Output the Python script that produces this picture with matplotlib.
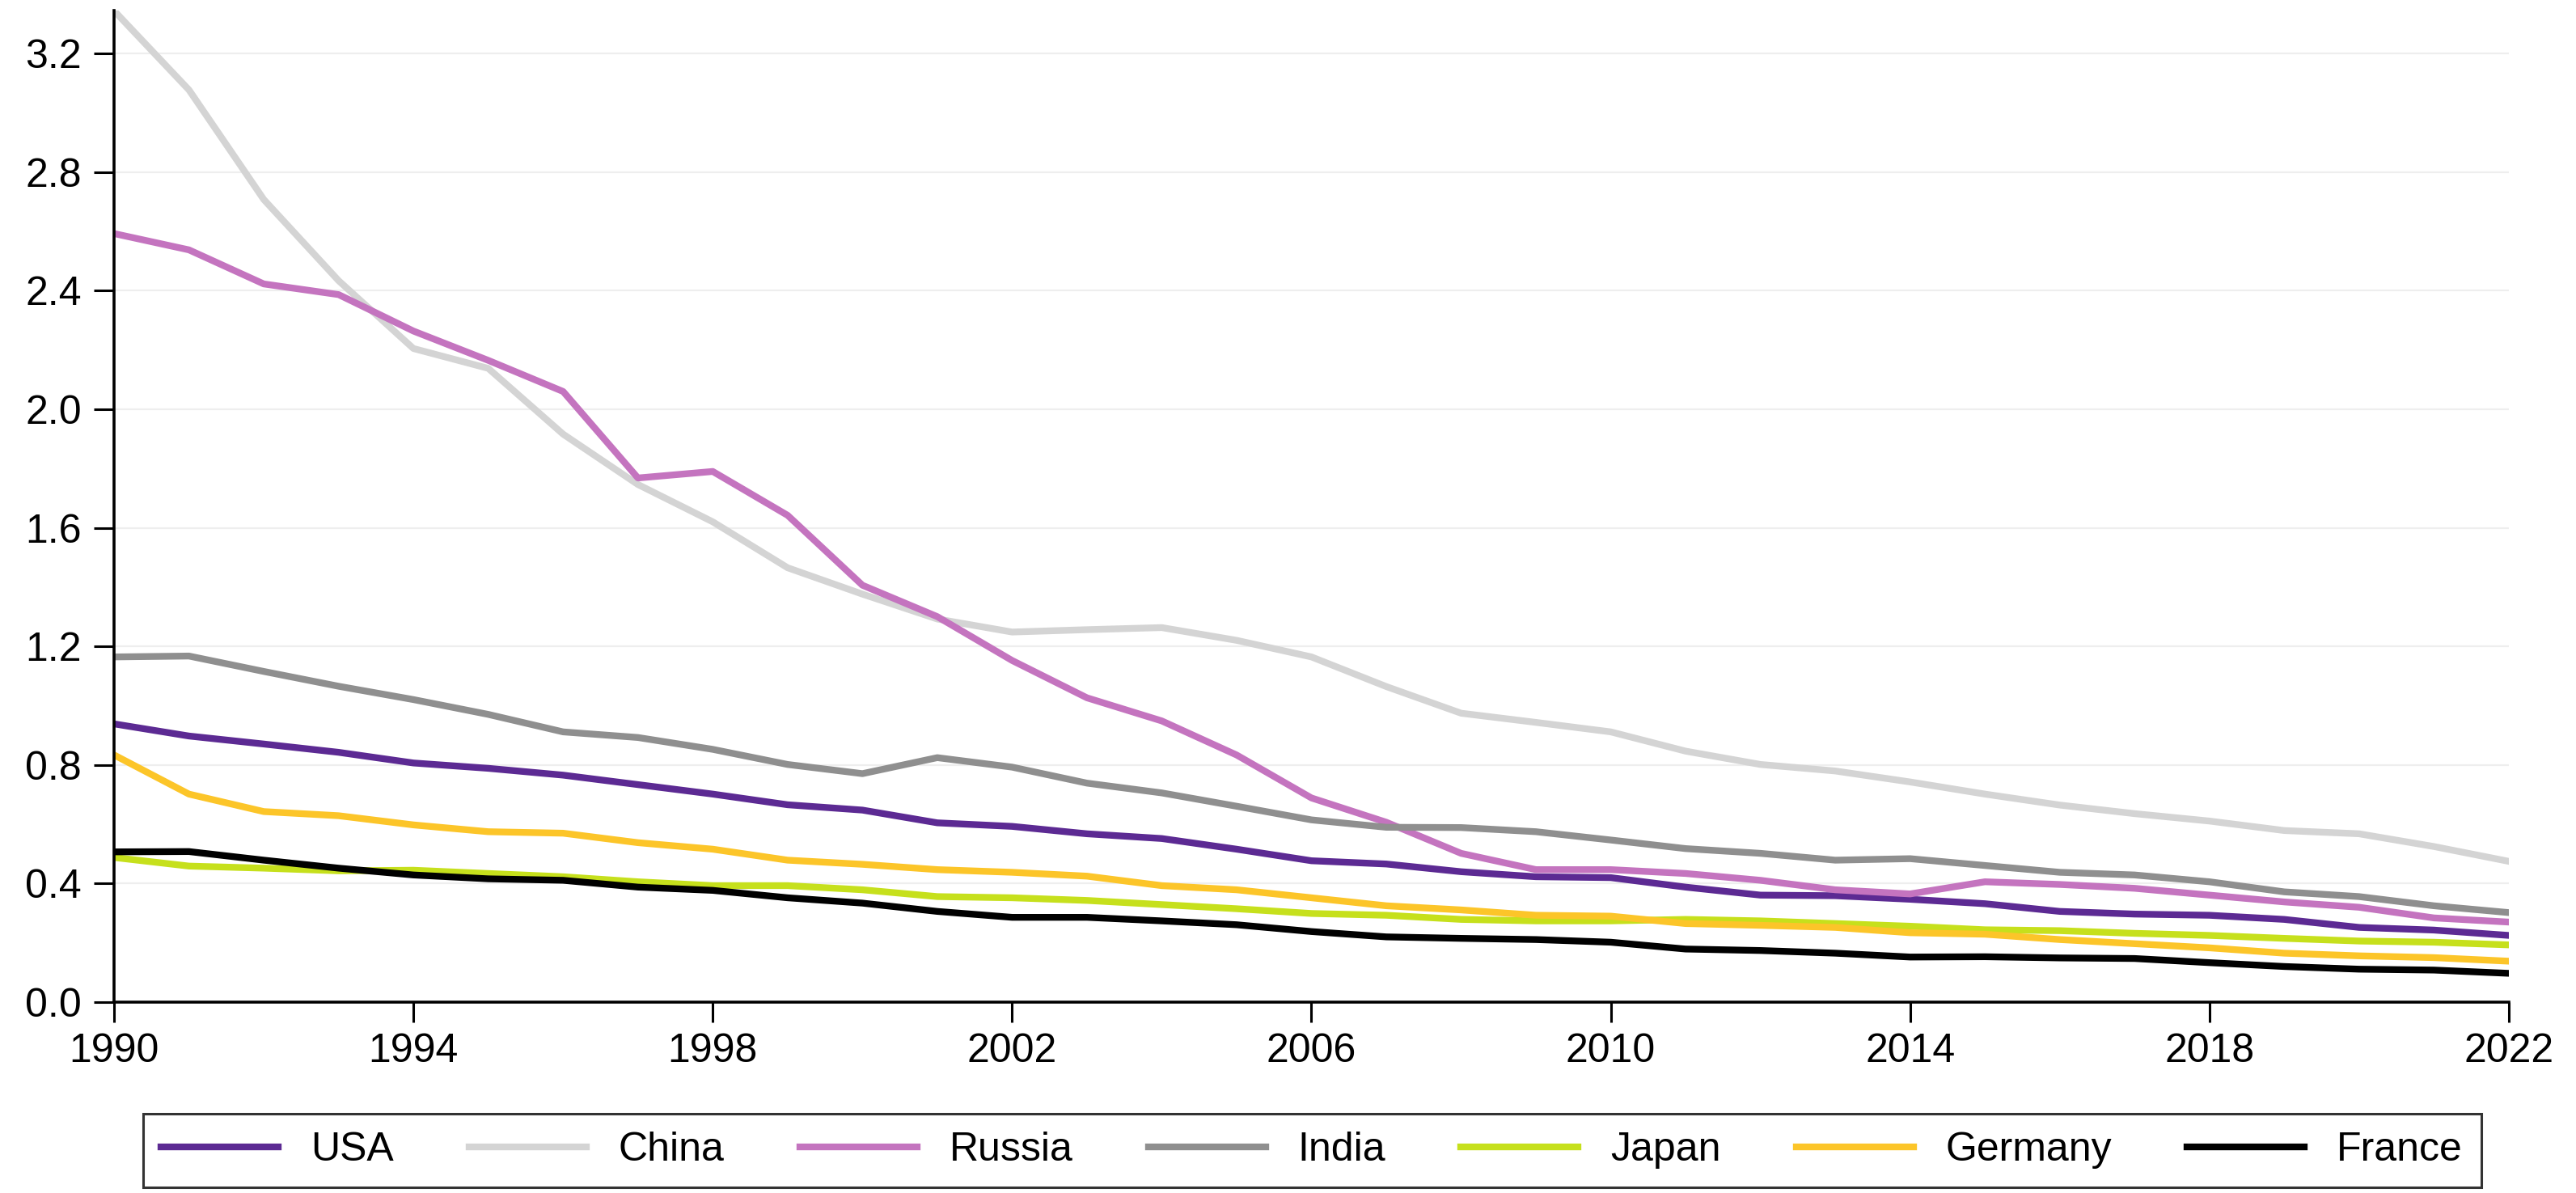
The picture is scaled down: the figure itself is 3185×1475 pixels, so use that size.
import matplotlib
matplotlib.use("Agg")
import matplotlib.pyplot as plt
from matplotlib.ticker import FormatStrFormatter

plt.rcParams['font.family'] = ['Liberation Sans', 'DejaVu Sans']

years = list(range(1990, 2023))

usa = [0.938, 0.897, 0.870, 0.842, 0.806, 0.788, 0.765, 0.733, 0.701, 0.665, 0.647,
       0.604, 0.592, 0.567, 0.551, 0.515, 0.476, 0.465, 0.439, 0.422, 0.419,
       0.387, 0.360, 0.358, 0.346, 0.331, 0.305, 0.296, 0.292, 0.278, 0.251, 0.242, 0.224]
china = [3.345, 3.078, 2.708, 2.434, 2.205, 2.138, 1.916, 1.746, 1.620, 1.465, 1.376,
         1.292, 1.248, 1.256, 1.263, 1.220, 1.164, 1.064, 0.974, 0.943, 0.911,
         0.846, 0.801, 0.779, 0.742, 0.701, 0.664, 0.635, 0.610, 0.578, 0.567, 0.524, 0.474]
russia = [2.593, 2.538, 2.423, 2.387, 2.264, 2.165, 2.060, 1.768, 1.790, 1.642, 1.406,
          1.300, 1.152, 1.026, 0.948, 0.833, 0.688, 0.606, 0.501, 0.446, 0.446,
          0.433, 0.410, 0.378, 0.364, 0.405, 0.396, 0.383, 0.360, 0.337, 0.319, 0.283, 0.269]
india = [1.164, 1.167, 1.115, 1.065, 1.020, 0.970, 0.911, 0.892, 0.852, 0.801, 0.770,
         0.824, 0.792, 0.738, 0.705, 0.660, 0.614, 0.589, 0.588, 0.574, 0.546,
         0.517, 0.501, 0.478, 0.483, 0.460, 0.437, 0.428, 0.405, 0.371, 0.355, 0.324, 0.301]
japan = [0.487, 0.458, 0.451, 0.442, 0.444, 0.433, 0.422, 0.405, 0.392, 0.392, 0.378,
         0.355, 0.351, 0.342, 0.328, 0.314, 0.298, 0.292, 0.278, 0.273, 0.273,
         0.278, 0.273, 0.264, 0.255, 0.243, 0.240, 0.231, 0.224, 0.214, 0.205, 0.201, 0.192]
germany = [0.833, 0.701, 0.642, 0.628, 0.597, 0.574, 0.569, 0.537, 0.515, 0.478, 0.464,
           0.446, 0.437, 0.424, 0.392, 0.378, 0.351, 0.324, 0.310, 0.292, 0.289,
           0.264, 0.258, 0.251, 0.233, 0.228, 0.210, 0.196, 0.182, 0.164, 0.155, 0.149, 0.137]
france = [0.506, 0.507, 0.478, 0.451, 0.428, 0.415, 0.410, 0.387, 0.376, 0.351, 0.333,
          0.305, 0.285, 0.285, 0.273, 0.260, 0.237, 0.219, 0.214, 0.210, 0.201,
          0.178, 0.173, 0.164, 0.151, 0.152, 0.148, 0.146, 0.132, 0.119, 0.110, 0.107, 0.096]

names = ["USA", "China", "Russia", "India", "Japan", "Germany", "France"]
series = [usa, china, russia, india, japan, germany, france]
colors = ["#5c2a93", "#d4d4d4", "#c474bf", "#8f8f8f", "#c6e01c", "#fcc529", "#000000"]

yticks = [0.0, 0.4, 0.8, 1.2, 1.6, 2.0, 2.4, 2.8, 3.2]
xticks = [1990, 1994, 1998, 2002, 2006, 2010, 2014, 2018, 2022]

fig = plt.figure(figsize=(31.85, 14.75), dpi=100)
ax = fig.add_axes([0.0443, 0.1603, 0.9296, 0.8309])

for y in yticks[1:]:
    ax.axhline(y, color="#eeeeee", lw=1.6, zorder=0)

for name, vals, c in zip(names, series, colors):
    ax.plot(years, vals, color=c, lw=6, label=name, solid_joinstyle='round', zorder=2)

ax.set_xlim(1990, 2022)
ax.set_ylim(0, 3.346)
ax.set_xticks(xticks)
ax.set_yticks(yticks)
ax.yaxis.set_major_formatter(FormatStrFormatter('%.1f'))
ax.tick_params(axis='both', labelsize=36, width=2.2, length=18, pad=11, color='black')
ax.tick_params(axis='x', pad=10)
for s in ["top", "right"]:
    ax.spines[s].set_visible(False)
for s in ["left", "bottom"]:
    ax.spines[s].set_linewidth(2.6)
    ax.spines[s].set_color("black")

handles, labels = ax.get_legend_handles_labels()
leg = fig.legend(handles, labels, loc="center", bbox_to_anchor=(0.5093, 0.0356),
                 ncol=7, fontsize=36, frameon=True, fancybox=False,
                 handlelength=2.9, handletextpad=0.8, columnspacing=1.86,
                 borderpad=0.45, edgecolor="black")
leg.get_frame().set_linewidth(2.2)
for line in leg.get_lines():
    line.set_linewidth(6)

fig.savefig("out.png", dpi=100, facecolor="white")
